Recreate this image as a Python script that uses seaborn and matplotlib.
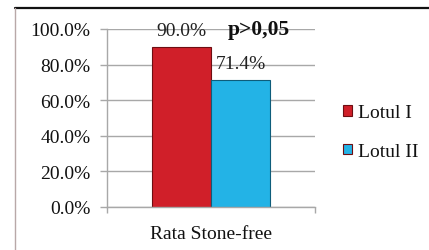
import numpy as np
import matplotlib
matplotlib.use("Agg")
import matplotlib.pyplot as plt
from matplotlib.lines import Line2D
from matplotlib.ticker import PercentFormatter
import seaborn as sns
import pandas as pd

# data
categories = ["Rata Stone-free"]
groups = ["Lotul I", "Lotul II"]
values = [90.0, 71.4]
value_labels = ["90.0%", "71.4%"]
yticks = [0, 20, 40, 60, 80, 100]
colors = ["#D01F29", "#23B3E6"]

df = pd.DataFrame({
    "Categorie": categories * len(groups),
    "Lot": groups,
    "Valoare": values
})

sns.set_style("white")
plt.rcParams["font.family"] = ["Liberation Serif", "DejaVu Serif"]

W, H = 429, 251
fig = plt.figure(figsize=(W / 100, H / 100), dpi=100)
ax = fig.add_axes([107 / W, 1 - 208 / H, 208 / W, 178 / H])

sns.barplot(
    data=df, x="Categorie", y="Valoare", hue="Lot",
    palette=colors, saturation=1, width=0.567, gap=0, ax=ax,
    edgecolor="#6E0E12", linewidth=0.8, legend=True
)
ax.patches[1].set_edgecolor("#0E5C7A")

ax.set_xlim(-0.5, 0.5)
ax.set_ylim(0, 100)
ax.set_yticks(yticks)
ax.yaxis.set_major_formatter(PercentFormatter(decimals=1))
ax.grid(axis="y", color="#A8A8A8", linewidth=1.0)
ax.set_axisbelow(True)
ax.set_xlabel("")
ax.set_ylabel("")

for s in ["top", "right"]:
    ax.spines[s].set_visible(False)
for s in ["left", "bottom"]:
    ax.spines[s].set_color("#A8A8A8")
    ax.spines[s].set_linewidth(1.0)

ax.tick_params(axis="y", length=5, width=1.0, color="#A8A8A8",
               labelsize=14, pad=7, left=True, labelcolor="#111111")
ax.tick_params(axis="x", which="major", length=0, labelsize=14, pad=13,
               labelcolor="#111111")
ax.set_xticks([-0.5, 0.5], minor=True)
ax.tick_params(axis="x", which="minor", length=4, width=1.0,
               color="#A8A8A8", bottom=True)

# value labels
for bar, lab in zip(ax.patches[:2], value_labels):
    ax.annotate(lab, (bar.get_x() + bar.get_width() / 2, bar.get_height()),
                xytext=(0, 12), textcoords="offset points",
                ha="center", va="center", fontsize=14, color="#222222")

ax.text(0.23, 100, "p>0,05", ha="center", va="center",
        fontsize=15.5, fontweight="bold", color="#111111")

leg = ax.legend(
    loc="center left", bbox_to_anchor=(343 / W, 1 - 133 / H),
    bbox_transform=fig.transFigure, frameon=False,
    fontsize=14, handlelength=0.45, handleheight=0.45,
    handletextpad=0.3, labelspacing=1.1, borderpad=0, borderaxespad=0
)
for t in leg.get_texts():
    t.set_color("#111111")

# outer frame
fig.add_artist(Line2D([15 / W, 1], [1 - 9 / H, 1 - 9 / H],
                      color="#111111", linewidth=1.6))
fig.add_artist(Line2D([15 / W, 15 / W], [0, 1 - 9 / H],
                      color="#B8A8A8", linewidth=1.0))

fig.savefig("out.png", dpi=100)
